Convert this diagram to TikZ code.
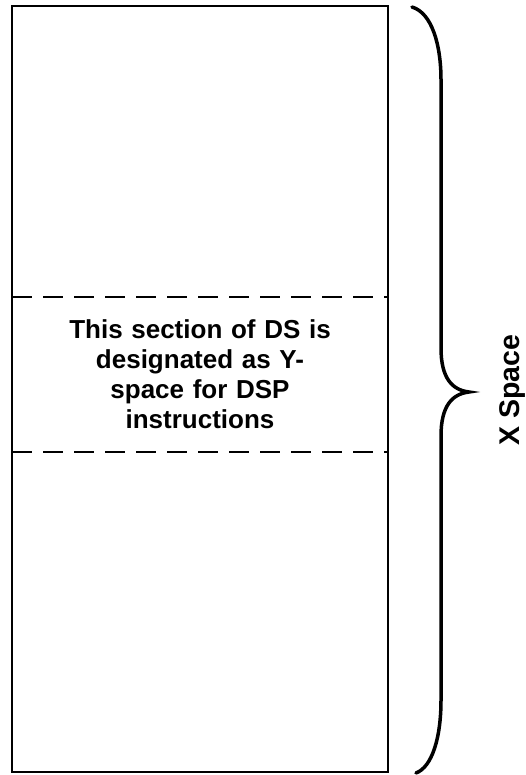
\documentclass[tikz,border=0pt]{standalone}
\usepackage{fontspec}
\setmainfont{Liberation Sans}
\begin{document}
\begin{tikzpicture}[x=1pt,y=-1pt,
  box/.style={draw=black,line width=2.5pt},
  sepline/.style={draw=black,line width=2pt,dash pattern=on 20pt off 11pt},
  bracepath/.style={draw=black,line width=3.5pt,line cap=round},
  lbl/.style={font=\fontsize{26}{30}\selectfont\bfseries,align=center,text width=300pt,inner sep=0pt},
  xlbl/.style={font=\fontsize{28.5}{32}\selectfont\bfseries,inner sep=0pt}]
\useasboundingbox (0,0) rectangle (525,775);
\node[box,minimum width=376pt,minimum height=766pt,inner sep=0pt] (mem) at (200,389) {};
\coordinate (d1l) at (12,297); \coordinate (d1r) at (388,297);
\coordinate (d2l) at (12,452); \coordinate (d2r) at (388,452);
\draw[sepline] (d1l) -- (d1r);
\draw[sepline] (d2l) -- (d2r);
\node[lbl] (ysp) at (200,374) {This section of DS is\\designated as Y-\\space for DSP\\instructions};
\coordinate (bt) at (412,7);
\coordinate (tip) at (469,392);
\coordinate (bb) at (416,773);
\draw[bracepath] (bt) .. controls (432,13) and (441,45) .. (441,80) -- (441,348)
  .. controls (441,378) and (452,390) .. (tip)
  .. controls (452,394) and (441,406) .. (441,436) -- (441,700)
  .. controls (441,738) and (432,767) .. (bb);
\node[xlbl,rotate=90,anchor=base] (xsp) at (519,390) {X Space};
\end{tikzpicture}
\end{document}
